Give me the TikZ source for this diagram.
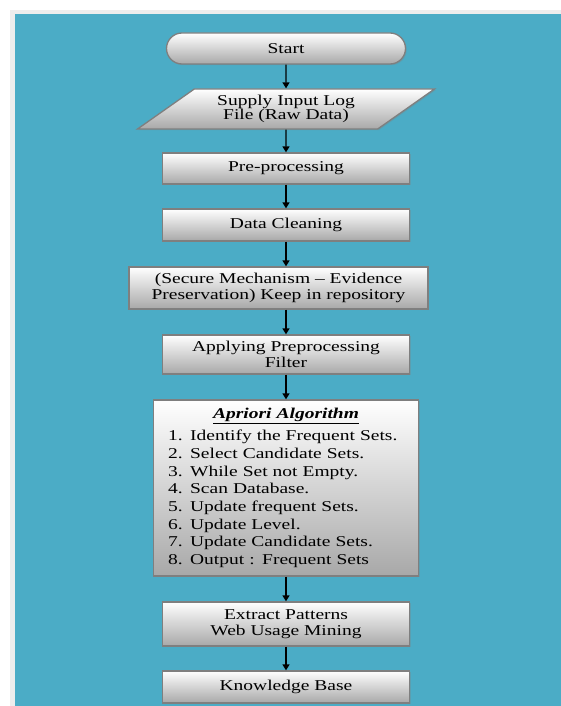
\documentclass[tikz,border=0pt]{standalone}
\usepackage{fontspec}
\setmainfont{Liberation Serif}[FakeStretch=1.3]
\usepackage{xcolor}
\usetikzlibrary{arrows.meta}
\usetikzlibrary{shapes.geometric,shapes.misc,shadows}
\definecolor{bgteal}{HTML}{4BACC6}
\definecolor{framegray}{HTML}{7F7F7F}
\definecolor{shadegray}{HTML}{A8A8A8}
\definecolor{edgegray}{HTML}{EDEDED}
\tikzset{
  flowbox/.style={draw=framegray, line width=1.3pt, top color=white, bottom color=shadegray,
    minimum width=247, minimum height=31, align=center, inner sep=1pt,
    font=\fontsize{15}{16}\selectfont,
    drop shadow={shadow xshift=1.2pt, shadow yshift=-1.2pt, opacity=0.3}},
  flowarrow/.style={-{Triangle[length=6pt,width=7pt]}, line width=1.4pt, black},
}

\begin{document}
\begin{tikzpicture}[x=1pt,y=-1pt]
      \useasboundingbox (0,0) rectangle (561,706);
      \fill[white] (0,0) rectangle (561,706);
      \fill[edgegray] (10,10) rectangle (561,706);
      \fill[bgteal] (15,14) rectangle (561,706);
      \node[flowbox, rounded rectangle, minimum width=241] (start) at (286,48.5) {Start};
      \node[flowbox, trapezium, trapezium left angle=35, trapezium right angle=145,
        trapezium stretches=true, minimum width=298, minimum height=40,
        font=\fontsize{15}{13.5}\selectfont] (input) at (286,109)
        {Supply Input Log\\File (Raw Data)};
      \node[flowbox] (prep) at (286,168.5) {Pre-processing};
      \node[flowbox, minimum height=32] (clean) at (286,225) {Data Cleaning};
      \node[flowbox, minimum width=299, minimum height=42] (secure) at (278.5,288)
        {(Secure Mechanism -- Evidence\\Preservation) Keep in repository};
      \node[flowbox, minimum height=39] (apply) at (286,354.5) {Applying Preprocessing\\Filter};
      \node[flowbox, minimum width=265, minimum height=176, text width=236, align=left,
        font=\fontsize{15}{17.7}\selectfont] (apriori) at (286,488)
        {\makebox[\linewidth][c]{\underline{\textbf{\textit{Apriori Algorithm}}}}\\[4.3pt]
         1. Identify the Frequent Sets.\\
         2. Select Candidate Sets.\\
         3. While Set not Empty.\\
         4. Scan Database.\\
         5. Update frequent Sets.\\
         6. Update Level.\\
         7. Update Candidate Sets.\\
         8. Output : Frequent Sets};
      \node[flowbox, minimum height=44] (extract) at (286,624) {Extract Patterns\\Web Usage Mining};
      \node[flowbox, minimum height=32] (kb) at (286,687) {Knowledge Base};
      \draw[flowarrow] (start) -- (input);
      \draw[flowarrow] (input) -- (prep);
      \draw[flowarrow] (prep) -- (clean);
      \draw[flowarrow] (clean.south) -- (clean.south |- secure.north);
      \draw[flowarrow] (apply.north |- secure.south) -- (apply.north);
      \draw[flowarrow] (apply) -- (apriori);
      \draw[flowarrow] (apriori) -- (extract);
      \draw[flowarrow] (extract) -- (kb);
\end{tikzpicture}
\end{document}
